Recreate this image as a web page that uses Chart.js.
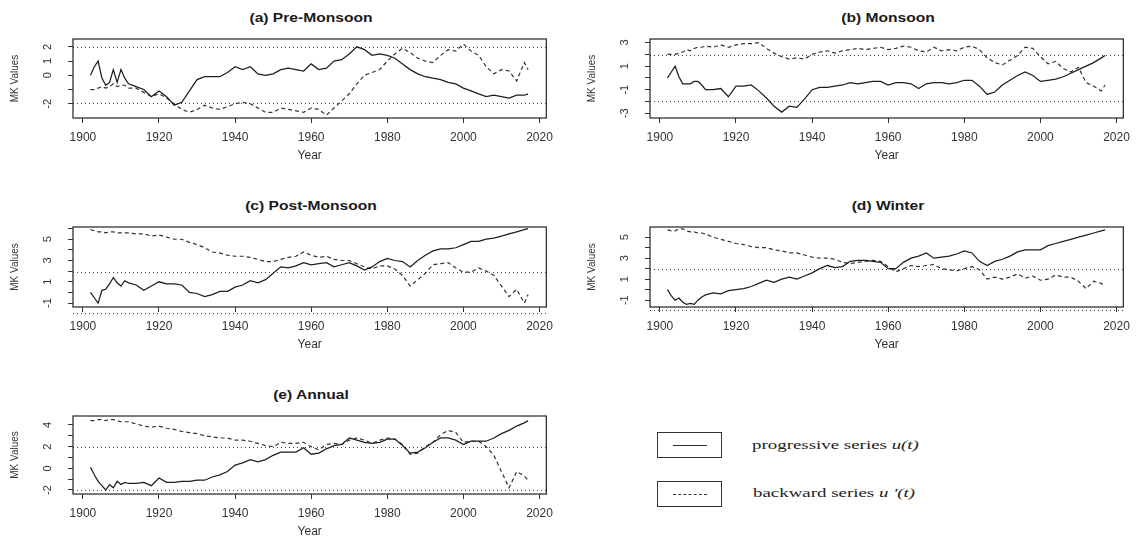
<!DOCTYPE html>
<html>
<head>
<meta charset="utf-8">
<script src="https://cdn.jsdelivr.net/npm/chart.js@4.4.1/dist/chart.umd.min.js"></script>
<style>
  body { margin: 0; background: #fff; }
  #wrap { position: relative; width: 1137px; height: 543px; overflow: hidden; font-family: "Liberation Sans", Arial, sans-serif; }
  canvas { position: absolute; }
  .ttl { position: absolute; width: 300px; text-align: center; font-weight: bold; font-size: 12px; line-height: 14px; color: #1a1a1a; transform: scaleX(1.3); }
  .lbox { position: absolute; width: 63px; height: 24px; border: 1.5px solid #333; }
  .lbox span { position: absolute; left: 15px; width: 34px; top: 12px; border-top: 1px solid #333; }
  .lbox span.dash { border-top: 1px dashed #333; }
  .ltxt { position: absolute; font-family: "Liberation Serif", "Times New Roman", serif; font-size: 13.5px; line-height: 18px; color: #222; transform: scaleX(1.4); transform-origin: left center; white-space: nowrap; }
</style>
</head>
<body>
<div id="wrap">
  <div class="ttl" style="left:161px;top:11px">(a) Pre-Monsoon</div>
  <div class="ttl" style="left:738px;top:11px">(b) Monsoon</div>
  <div class="ttl" style="left:161px;top:199px">(c) Post-Monsoon</div>
  <div class="ttl" style="left:738px;top:199px">(d) Winter</div>
  <div class="ttl" style="left:161px;top:388px">(e) Annual</div>

  <canvas id="cA" width="560" height="170" style="left:0;top:0"></canvas>
  <canvas id="cB" width="567" height="170" style="left:570px;top:0"></canvas>
  <canvas id="cC" width="560" height="170" style="left:0;top:190px"></canvas>
  <canvas id="cD" width="567" height="170" style="left:570px;top:190px"></canvas>
  <canvas id="cE" width="560" height="165" style="left:0;top:378px"></canvas>

  <div class="lbox" style="left:657px;top:432px"><span></span></div>
  <div class="ltxt" style="left:752px;top:436px">progressive series <i>u(t)</i></div>
  <div class="lbox" style="left:657px;top:481px"><span class="dash"></span></div>
  <div class="ltxt" style="left:753px;top:484px">backward series <i>u '(t)</i></div>
</div>
<script>
// Sequential Mann-Kendall series
const years = [1902,1903,1904,1905,1906,1907,1908,1909,1910,1911,1912,
  1914,1916,1918,1920,1922,1924,1926,1928,1930,
  1932,1934,1936,1938,1940,1942,1944,1946,1948,1950,
  1952,1954,1956,1958,1960,1962,1964,1966,1968,1970,
  1972,1974,1976,1978,1980,1982,1984,1986,1988,1990,
  1992,1994,1996,1998,2000,2002,2004,2006,2008,2010,
  2012,2014,2016,2017];

const preU = [0, 0.6, 1.0, -0.2, -0.7, -0.5, 0.4, -0.5, 0.4, -0.2, -0.6,
  -0.8, -1.0, -1.5, -1.1, -1.5, -2.1, -1.9, -1.1, -0.3,
  -0.1, -0.1, -0.1, 0.2, 0.6, 0.4, 0.6, 0.1, 0.0, 0.1,
  0.4, 0.5, 0.4, 0.3, 0.8, 0.4, 0.5, 1.0, 1.1, 1.5,
  2.0, 1.8, 1.4, 1.5, 1.4, 1.2, 0.8, 0.4, 0.1, -0.1,
  -0.2, -0.3, -0.5, -0.6, -0.9, -1.1, -1.3, -1.5, -1.4, -1.5,
  -1.6, -1.4, -1.4, -1.3];
const preB = [-1.0, -1.0, -0.9, -0.8, -0.9, -0.8, -0.6, -0.8, -0.7, -0.7, -0.9,
  -0.9, -1.2, -1.5, -1.3, -1.6, -2.0, -2.4, -2.6, -2.4,
  -2.1, -2.3, -2.4, -2.2, -2.0, -1.9, -2.0, -2.3, -2.6, -2.6,
  -2.3, -2.4, -2.5, -2.6, -2.3, -2.4, -2.8, -2.3, -1.8, -1.3,
  -0.6, 0.0, 0.2, 0.4, 1.0, 1.5, 1.9, 1.6, 1.2, 1.0,
  0.9, 1.4, 1.8, 1.7, 2.2, 1.7, 1.4, 0.6, 0.1, 0.4,
  0.3, -0.4, 0.9, 0.4];

const monU = [0.0, 0.5, 1.0, 0.1, -0.5, -0.5, -0.5, -0.3, -0.3, -0.6, -1.0,
  -1.0, -0.9, -1.6, -0.7, -0.7, -0.6, -1.1, -1.7, -2.4,
  -2.9, -2.4, -2.5, -1.8, -1.0, -0.8, -0.8, -0.7, -0.6, -0.4,
  -0.5, -0.4, -0.3, -0.3, -0.6, -0.4, -0.4, -0.5, -0.9, -0.5,
  -0.4, -0.4, -0.5, -0.4, -0.2, -0.2, -0.7, -1.4, -1.2, -0.6,
  -0.2, 0.2, 0.5, 0.2, -0.3, -0.2, -0.1, 0.1, 0.4, 0.7,
  1.0, 1.3, 1.7, 1.9];
const monB = [2.0, 2.0, 2.0, 2.1, 2.2, 2.4, 2.3, 2.5, 2.6, 2.6, 2.7,
  2.6, 2.8, 2.6, 2.8, 2.9, 2.9, 3.0, 2.5, 2.1,
  1.8, 1.6, 1.7, 1.6, 2.0, 2.2, 2.3, 2.1, 2.3, 2.4,
  2.5, 2.4, 2.5, 2.6, 2.4, 2.5, 2.7, 2.6, 2.3, 2.2,
  2.6, 2.3, 2.4, 2.3, 2.6, 2.7, 2.4, 1.7, 1.3, 1.1,
  1.5, 1.9, 2.6, 2.5, 1.8, 1.2, 1.4, 0.8, 0.5, 0.9,
  -0.4, -0.7, -1.1, -0.6];

const postU = [0.0, -0.5, -1.0, 0.2, 0.3, 0.8, 1.4, 0.9, 0.6, 1.1, 0.9,
  0.7, 0.2, 0.6, 1.0, 0.8, 0.8, 0.7, 0.0, -0.1,
  -0.4, -0.2, 0.1, 0.1, 0.5, 0.7, 1.1, 0.9, 1.2, 1.8,
  2.4, 2.3, 2.5, 2.8, 2.6, 2.7, 2.8, 2.4, 2.6, 2.8,
  2.5, 2.1, 2.4, 2.9, 3.2, 3.0, 2.9, 2.4, 3.0, 3.5,
  3.9, 4.1, 4.1, 4.2, 4.5, 4.8, 4.8, 5.0, 5.1, 5.3,
  5.5, 5.7, 5.9, 6.0];
const postB = [5.9, 5.8, 5.7, 5.7, 5.6, 5.7, 5.7, 5.6, 5.6, 5.6, 5.6,
  5.5, 5.5, 5.3, 5.4, 5.2, 5.0, 5.0, 4.7, 4.5,
  4.2, 3.8, 3.7, 3.5, 3.4, 3.4, 3.3, 3.1, 2.9, 2.9,
  3.1, 3.3, 3.4, 3.8, 3.5, 3.3, 3.4, 3.1, 3.0, 3.0,
  2.7, 2.4, 2.2, 2.5, 2.5, 2.2, 1.6, 0.6, 1.2, 1.8,
  2.6, 2.7, 2.8, 2.3, 1.9, 1.9, 2.3, 2.0, 1.6, 0.6,
  -0.4, 0.3, -1.0, -0.2];

const winU = [0.0, -0.6, -1.0, -0.8, -1.2, -1.4, -1.3, -1.4, -1.0, -0.7, -0.5,
  -0.3, -0.4, -0.1, 0.0, 0.1, 0.3, 0.6, 0.9, 0.7,
  1.0, 1.2, 1.0, 1.3, 1.6, 2.0, 2.3, 2.1, 2.2, 2.7,
  2.8, 2.8, 2.7, 2.6, 2.0, 2.0, 2.6, 3.0, 3.2, 3.5,
  3.0, 3.1, 3.2, 3.4, 3.7, 3.5, 2.7, 2.3, 2.7, 2.9,
  3.2, 3.6, 3.8, 3.8, 3.8, 4.2, 4.4, 4.6, 4.8, 5.0,
  5.2, 5.4, 5.6, 5.7];
const winB = [5.7, 5.6, 5.6, 5.8, 5.8, 5.6, 5.5, 5.5, 5.4, 5.4, 5.3,
  5.0, 4.8, 4.6, 4.4, 4.3, 4.1, 4.0, 4.0, 3.8,
  3.7, 3.5, 3.5, 3.3, 3.1, 3.0, 3.0, 2.9, 2.6, 2.5,
  2.6, 2.7, 2.8, 2.7, 2.2, 1.7, 2.0, 2.3, 2.2, 2.3,
  2.4, 2.0, 1.9, 1.8, 2.0, 2.2, 1.9, 1.0, 1.2, 1.0,
  1.2, 1.5, 1.1, 1.3, 0.9, 1.0, 1.4, 1.2, 1.2, 0.8,
  0.1, 0.8, 0.6, 0.3];

const annU = [0.1, -0.6, -1.2, -1.6, -2.0, -1.5, -1.8, -1.2, -1.5, -1.3, -1.4,
  -1.4, -1.3, -1.6, -0.9, -1.3, -1.3, -1.2, -1.2, -1.1,
  -1.1, -0.8, -0.6, -0.3, 0.3, 0.5, 0.8, 0.6, 0.8, 1.2,
  1.5, 1.5, 1.5, 1.9, 1.3, 1.4, 1.8, 2.1, 2.2, 2.8,
  2.6, 2.4, 2.3, 2.4, 2.7, 2.7, 2.1, 1.4, 1.5, 1.9,
  2.4, 2.8, 2.8, 2.6, 2.2, 2.5, 2.5, 2.5, 2.8, 3.2,
  3.5, 3.9, 4.2, 4.4];
const annB = [4.4, 4.4, 4.5, 4.5, 4.4, 4.5, 4.5, 4.4, 4.3, 4.3, 4.3,
  4.1, 3.9, 3.8, 3.9, 3.7, 3.6, 3.4, 3.3, 3.2,
  3.0, 2.9, 2.8, 2.8, 2.6, 2.6, 2.5, 2.3, 2.1, 2.0,
  2.4, 2.3, 2.3, 2.4, 2.0, 1.7, 2.2, 2.3, 2.2, 2.6,
  2.8, 2.6, 2.3, 2.6, 2.8, 2.7, 2.2, 1.3, 1.4, 2.0,
  2.4, 3.1, 3.5, 3.3, 2.4, 2.5, 2.5, 2.0, 1.2, -0.3,
  -1.8, -0.3, -0.7, -1.1];

// axes
const xTicks = [1900, 1920, 1940, 1960, 1980, 2000, 2020];
const sigLevels = [-1.96, 1.96];
const preTicks = [-2, -1, 0, 1, 2],        preLabels = [-2, 0, 1, 2];
const monTicks = [-3, -2, -1, 0, 1, 2, 3], monLabels = [-3, -1, 1, 3];
const postTicks = [-1, 0, 1, 2, 3, 4, 5, 6], postLabels = [-1, 1, 3, 5];
const winTicks = [-1, 0, 1, 2, 3, 4, 5],   winLabels = [-1, 1, 3, 5];
const annTicks = [-2, -1, 0, 1, 2, 3, 4],  annLabels = [-2, 0, 2, 4];

const FONT = '"Liberation Sans", Arial, sans-serif';

// box, 1.96 lines and rotated y labels like R base graphics
function rFrame(p) {
  return {
    id: "rFrame",
    beforeDatasetsDraw(chart) {
      const { ctx, chartArea: ca, scales: { y } } = chart;
      ctx.save();
      ctx.strokeStyle = "#444";
      ctx.lineWidth = 1;
      ctx.setLineDash([1, 3]);
      sigLevels.forEach(v => {
        const py = Math.round(y.getPixelForValue(v)) + 0.5;
        ctx.beginPath();
        ctx.moveTo(ca.left, py);
        ctx.lineTo(ca.right, py);
        ctx.stroke();
      });
      ctx.restore();
    },
    afterDraw(chart) {
      const { ctx, chartArea: ca, scales: { y } } = chart;
      ctx.save();
      ctx.strokeStyle = "#333";
      ctx.lineWidth = 1.3;
      ctx.strokeRect(ca.left, ca.top, ca.right - ca.left, ca.bottom - ca.top);
      ctx.fillStyle = "#333";
      ctx.font = "11px " + FONT;
      ctx.textAlign = "center";
      ctx.textBaseline = "middle";
      p.yLabels.forEach(v => {
        ctx.save();
        ctx.translate(ca.left - 25, y.getPixelForValue(v));
        ctx.rotate(-Math.PI / 2);
        ctx.fillText(String(v), 0, 0);
        ctx.restore();
      });
      ctx.restore();
    }
  };
}

function panel(id, p) {
  const pts = arr => years.map((x, i) => ({ x: x, y: arr[i] }));
  new Chart(document.getElementById(id), {
    type: "line",
    data: {
      datasets: [
        { data: pts(p.u), borderColor: "#1e1e1e", borderWidth: 1.25, pointRadius: 0, tension: 0 },
        { data: pts(p.b), borderColor: "#333", borderWidth: 1.2, borderDash: [4, 3], pointRadius: 0, tension: 0 }
      ]
    },
    options: {
      responsive: false,
      animation: false,
      events: [],
      layout: { padding: p.pad },
      plugins: { legend: { display: false }, tooltip: { enabled: false } },
      scales: {
        x: {
          type: "linear", min: 1897.4, max: 2021.8,
          afterBuildTicks: s => { s.ticks = xTicks.map(v => ({ value: v })); },
          afterFit: s => { s.height = 48; },
          grid: { drawOnChartArea: false, drawTicks: true, tickLength: 5, color: "#333" },
          border: { display: false },
          ticks: { autoSkip: false, maxRotation: 0, padding: 7, color: "#333",
                   font: { family: FONT, size: 12 }, callback: v => String(v) },
          title: { display: true, text: "Year", color: "#333", font: { family: FONT, size: 12 }, padding: { top: 0, bottom: 3 } }
        },
        y: {
          min: p.yMin, max: p.yMax,
          afterBuildTicks: s => { s.ticks = p.yTicks.map(v => ({ value: v })); },
          afterFit: s => { s.width = 69; },
          grid: { drawOnChartArea: false, drawTicks: true, tickLength: 5, color: "#333" },
          border: { display: false },
          ticks: { display: false },
          title: { display: true, text: "MK Values", color: "#333", font: { family: FONT, size: 10 }, padding: { top: 5, bottom: 0 } }
        }
      }
    },
    plugins: [rFrame(p)]
  });
}

panel("cA", { u: preU, b: preB, yMin: -3.0, yMax: 2.55, yTicks: preTicks, yLabels: preLabels,
  pad: { left: 4, right: 10, top: 39, bottom: 4 } });
panel("cB", { u: monU, b: monB, yMin: -3.4, yMax: 3.3, yTicks: monTicks, yLabels: monLabels,
  pad: { left: 11, right: 10, top: 39, bottom: 4 } });
panel("cC", { u: postU, b: postB, yMin: -1.37, yMax: 6.15, yTicks: postTicks, yLabels: postLabels,
  pad: { left: 4, right: 10, top: 37, bottom: 5 } });
panel("cD", { u: winU, b: winB, yMin: -1.65, yMax: 5.97, yTicks: winTicks, yLabels: winLabels,
  pad: { left: 11, right: 10, top: 37, bottom: 5 } });
panel("cE", { u: annU, b: annB, yMin: -2.37, yMax: 4.83, yTicks: annTicks, yLabels: annLabels,
  pad: { left: 4, right: 10, top: 38, bottom: 1 } });
</script>
</body>
</html>
